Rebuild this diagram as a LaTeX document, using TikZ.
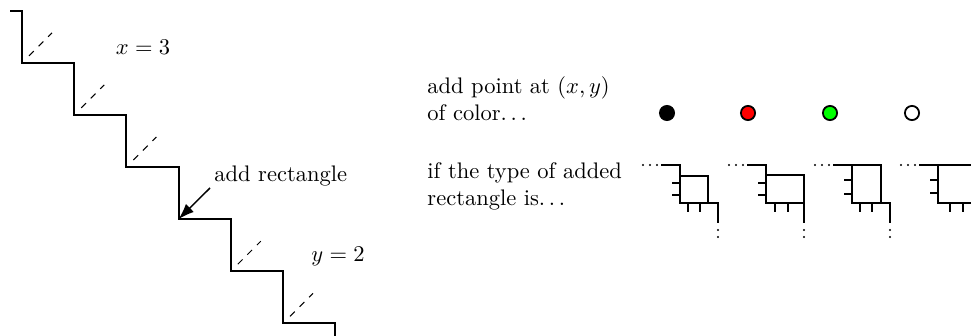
\documentclass[tikz,border=0pt]{standalone}
\usetikzlibrary{arrows.meta}
\newcommand{\spdots}{.\kern1.67pt.\kern1.67pt.\kern1.67pt}
\tikzset{
  stair/.style={line width=0.9pt, line join=miter},
  guide/.style={dashed, line width=0.45pt},
  glyphline/.style={line width=0.9pt},
  lbl/.style={inner sep=0pt, font=\normalsize},
  pt/.style={circle, draw=black, line width=0.8pt, inner sep=0pt, minimum size=6.3pt},
}
\newcommand{\rectglyph}[8]{%
  \begin{scope}[shift={(#1,165)}]
    \foreach \dx in {-37,-30,-23} \fill (\dx,0) circle[radius=0.45pt];
    \foreach \dy in {65,72} \fill (38,\dy) circle[radius=0.45pt];
    \draw[glyphline] (-19,0) -| (0,38) -- (38,38) -- (38,58);
    \draw[glyphline] (0,#3) -- (#2,#3) -- (#2,38);
    \draw[glyphline] (-8,#4) -- (0,#4) (-8,#5) -- (0,#5);
    \draw[glyphline] (#6,38) -- (#6,47) (#7,38) -- (#7,47);
    \coordinate (#8) at (0,0);
  \end{scope}}
\begin{document}
\begin{tikzpicture}[x=0.4444pt, y=-0.4444pt]
\useasboundingbox (0,0) rectangle (971,336);
% staircase corners
\foreach \i in {0,...,6} {
  \coordinate (v\i) at ({22+52.2*\i},{10.7+52.1*\i});
}
\coordinate (s0) at (10,10.7);
\coordinate (s7) at (335.2,336);
\draw[stair] (s0) -- (v0) |- (v1) |- (v2) |- (v3) |- (v4) |- (v5) |- (v6) -- (s7);
% dashed guides at inner corners
\foreach \i in {1,2,3,5,6} {
  \draw[guide] ({22+52.2*(\i-1)+7},{10.7+52.1*\i-7}) -- ++(23,-23);
}
% labels
\node[lbl] (xlab) at (143,47) {$x=3$};
\node[lbl] (ylab) at (338,256) {$y=2$};
\node[lbl, anchor=west] (addrect) at (214,176) {add rectangle};
\coordinate (corner) at ({22+52.2*3},{10.7+52.1*4});
\coordinate (astart) at (210,188);
\draw[line width=0.65pt, -{Latex[length=7pt,width=5pt]}] (astart) -- (corner);
% right side texts
\node[lbl, anchor=west, align=left] (pointtxt) at (427,99) {add point at $(x,y)$\\of color\spdots};
\node[lbl, anchor=west, align=left] (typetxt) at (427,186) {if the type of added\\rectangle is\spdots};
% points
\node[pt, fill=black] (p1) at (667,113) {};
\node[pt, fill=red] (p2) at (748,113) {};
\node[pt, fill=green] (p3) at (830,113) {};
\node[pt, fill=white] (p4) at (912,113) {};
% glyphs
\rectglyph{680}{28}{11}{18}{30}{8}{20}{g1}
\rectglyph{766}{38}{10}{18}{30}{9}{22}{g2}
\rectglyph{852}{29}{0}{15}{29}{8}{20}{g3}
\rectglyph{938}{38}{0}{15}{28}{12}{25}{g4}
\end{tikzpicture}
\end{document}
